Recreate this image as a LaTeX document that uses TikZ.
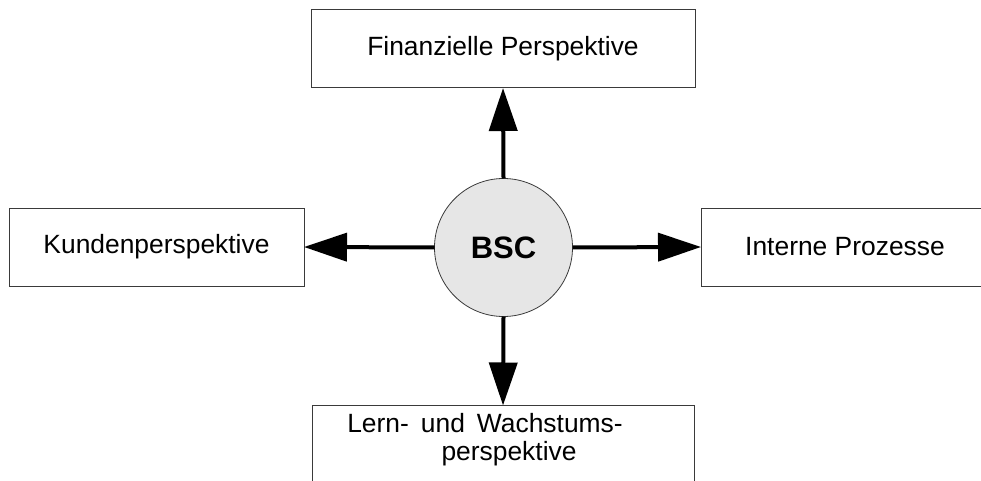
\documentclass[tikz,border=0pt]{standalone}
\usepackage{fontspec}
\setmainfont{Liberation Sans}
\usetikzlibrary{arrows.meta}
\definecolor{edgegray}{HTML}{3A3A3A}
\definecolor{hubfill}{HTML}{E6E6E6}
\tikzset{
  perspbox/.style={draw=edgegray, line width=1pt, fill=white, rectangle,
    outer sep=0pt, inner sep=0pt, minimum height=78pt,
    font=\fontsize{26.4}{28}\selectfont},
  hub/.style={circle, draw=edgegray, line width=0.8pt, fill=hubfill,
    outer sep=0pt, inner sep=0pt, minimum size=138pt,
    font=\fontsize{31}{34}\selectfont\bfseries},
  label text/.style={inner sep=0pt, anchor=base,
    font=\fontsize{26.4}{28}\selectfont},
  spoke/.style={line width=4pt, -{Triangle[length=43pt,width=28pt]}}
}
\begin{document}
\begin{tikzpicture}[x=1pt,y=-1pt]
  \useasboundingbox (0,0) rectangle (981,481);
  \clip (0,0) rectangle (981,481);
  % central hub
  \node[hub] (bsc) at (503.5,247.5) {BSC};
  % the four perspectives
  \node[perspbox, minimum width=384pt] (fin) at (503,49) {Finanzielle Perspektive};
  \node[perspbox, minimum width=295pt] (kun) at (156.5,247) {Kundenperspektive};
  \node[perspbox, minimum width=288pt] (int) at (845,247) {Interne Prozesse};
  \node[perspbox, minimum width=382pt, minimum height=120pt, anchor=north] (lern) at (503,405.5) {};
  % two-line label of the bottom box, set line by line
  \node[label text] (lernA) at (485,432) {Lern-\hspace{12pt}und\hspace{12pt}Wachstums-};
  \node[label text] (lernB) at (509,460) {perspektive};
  % arrows from the hub
  \draw[spoke] (bsc.north) -- (fin.south);
  \draw[spoke] (bsc.west) -- (kun.east);
  \draw[spoke] (bsc.east) -- (int.west);
  \draw[spoke] (bsc.south) -- (lern.north);
\end{tikzpicture}
\end{document}
